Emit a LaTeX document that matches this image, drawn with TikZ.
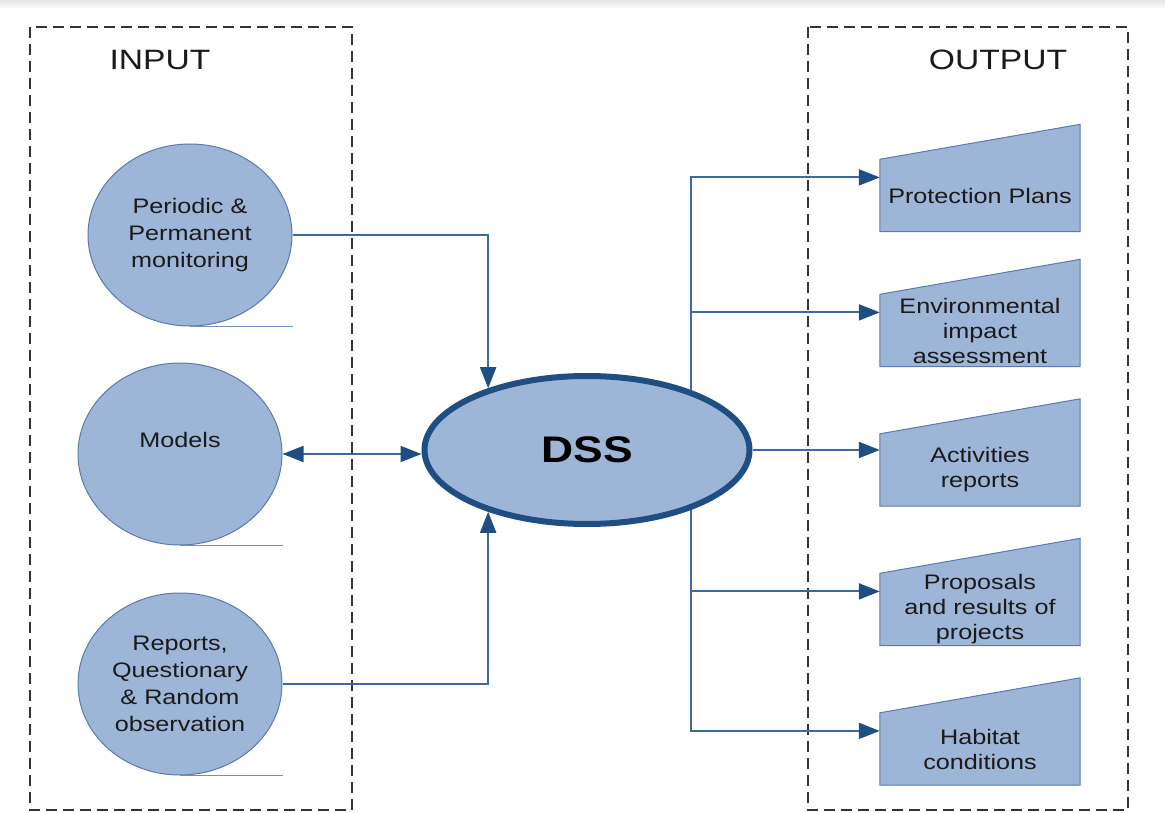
\documentclass[tikz,border=0pt]{standalone}
\usepackage{fontspec}
\setmainfont{Liberation Sans}[FakeStretch=1.2]
\usetikzlibrary{shapes.geometric,arrows.meta,calc}
\pgfdeclarelayer{background}
\pgfsetlayers{background,main}

\definecolor{fillblue}{HTML}{9DB5D7}
\definecolor{rimblue}{HTML}{5B7BAA}
\definecolor{tailblue}{HTML}{7090BE}
\definecolor{linkblue}{HTML}{3D6A9E}
\definecolor{navy}{HTML}{1F4F82}
\definecolor{ink}{HTML}{1A1A1A}

\tikzset{
  frame/.style={draw=black!80, line width=2pt, dash pattern=on 11pt off 6pt},
  heading/.style={text=ink, font=\fontsize{28}{30}\selectfont},
  source/.style={ellipse, draw=rimblue, line width=1pt, fill=fillblue,
    minimum width=204pt, minimum height=182pt, inner sep=0pt, align=center,
    text=ink, font=\fontsize{21}{27}\selectfont},
  tail/.style={draw=tailblue, line width=1.2pt},
  hub/.style={ellipse, draw=navy, line width=6pt, fill=fillblue,
    minimum width=325pt, minimum height=148pt, inner sep=0pt,
    text=black, font=\fontsize{37}{40}\selectfont\bfseries},
  outbox/.style={minimum width=200pt, minimum height=72pt, inner sep=0pt,
    align=center, text=ink, font=\fontsize{21}{25}\selectfont},
  outshape/.style={draw=rimblue, line width=1pt, fill=fillblue},
  link/.style={draw=linkblue, line width=2pt, -{Triangle[length=21pt,width=16pt,color=navy]}},
  biglink/.style={draw=linkblue, line width=2pt,
    {Triangle[length=21pt,width=16pt,color=navy]}-{Triangle[length=21pt,width=16pt,color=navy]}}
}

\begin{document}
\begin{tikzpicture}[x=1pt,y=-1pt]
\useasboundingbox (0,0) rectangle (1165,813);
\shade[top color=black!10, bottom color=white] (0,0) rectangle (1165,9);

% input and output frames
\draw[frame] (30,27) rectangle (352,810);
\draw[frame] (808,27) rectangle (1128,810);
\node[heading] (inlabel) at (160,60) {INPUT};
\node[heading] (outlabel) at (998,60) {OUTPUT};

% data sources
\node[source] (c1) at (190,235) {Periodic \&\\Permanent\\monitoring};
\node[source, text height=15pt, text depth=28pt] (c2) at (180,454) {Models};
\node[source] (c3) at (180,684) {Reports,\\Questionary\\\& Random\\observation};
\foreach \c in {c1,c2,c3}
  \draw[tail] (\c.south) -- (\c.south -| \c.east);

% decision support system
\node[hub] (dss) at (587,450) {DSS};

% outputs
\node[outbox] (o1) at (980,195.5) {Protection Plans};
\node[outbox] (o2) at (980,330.5) {Environmental\\impact\\assessment};
\node[outbox] (o3) at (980,470) {Activities\\reports};
\node[outbox] (o4) at (980,609.5) {Proposals\\and results of\\projects};
\node[outbox] (o5) at (980,749) {Habitat\\conditions};
\begin{pgfonlayer}{background}
  \foreach \o in {o1,o2,o3,o4,o5}
    \draw[outshape] (\o.south west) -- (\o.north west)
      -- ([yshift=35pt]\o.north east) -- (\o.south east) -- cycle;
\end{pgfonlayer}
\foreach \o in {o1,o2,o3,o4,o5}
  \coordinate (\o in) at ($(\o.north west)!0.25!(\o.south west)$);

% inputs into the DSS
\draw[link] (c1.east) -| (dss.148);
\draw[link] (c3.east) -| (dss.212);
\draw[biglink] (c2.east) -- (c2.east -| dss.west);

% DSS to the outputs
\draw[link] (dss.30) |- (o1in);
\draw[link] (dss.30 |- o2in) -- (o2in);
\draw[link] (dss.east) -- (dss.east -| o3in);
\draw[link] (dss.-30 |- o4in) -- (o4in);
\draw[link] (dss.-30) |- (o5in);
\end{tikzpicture}
\end{document}
